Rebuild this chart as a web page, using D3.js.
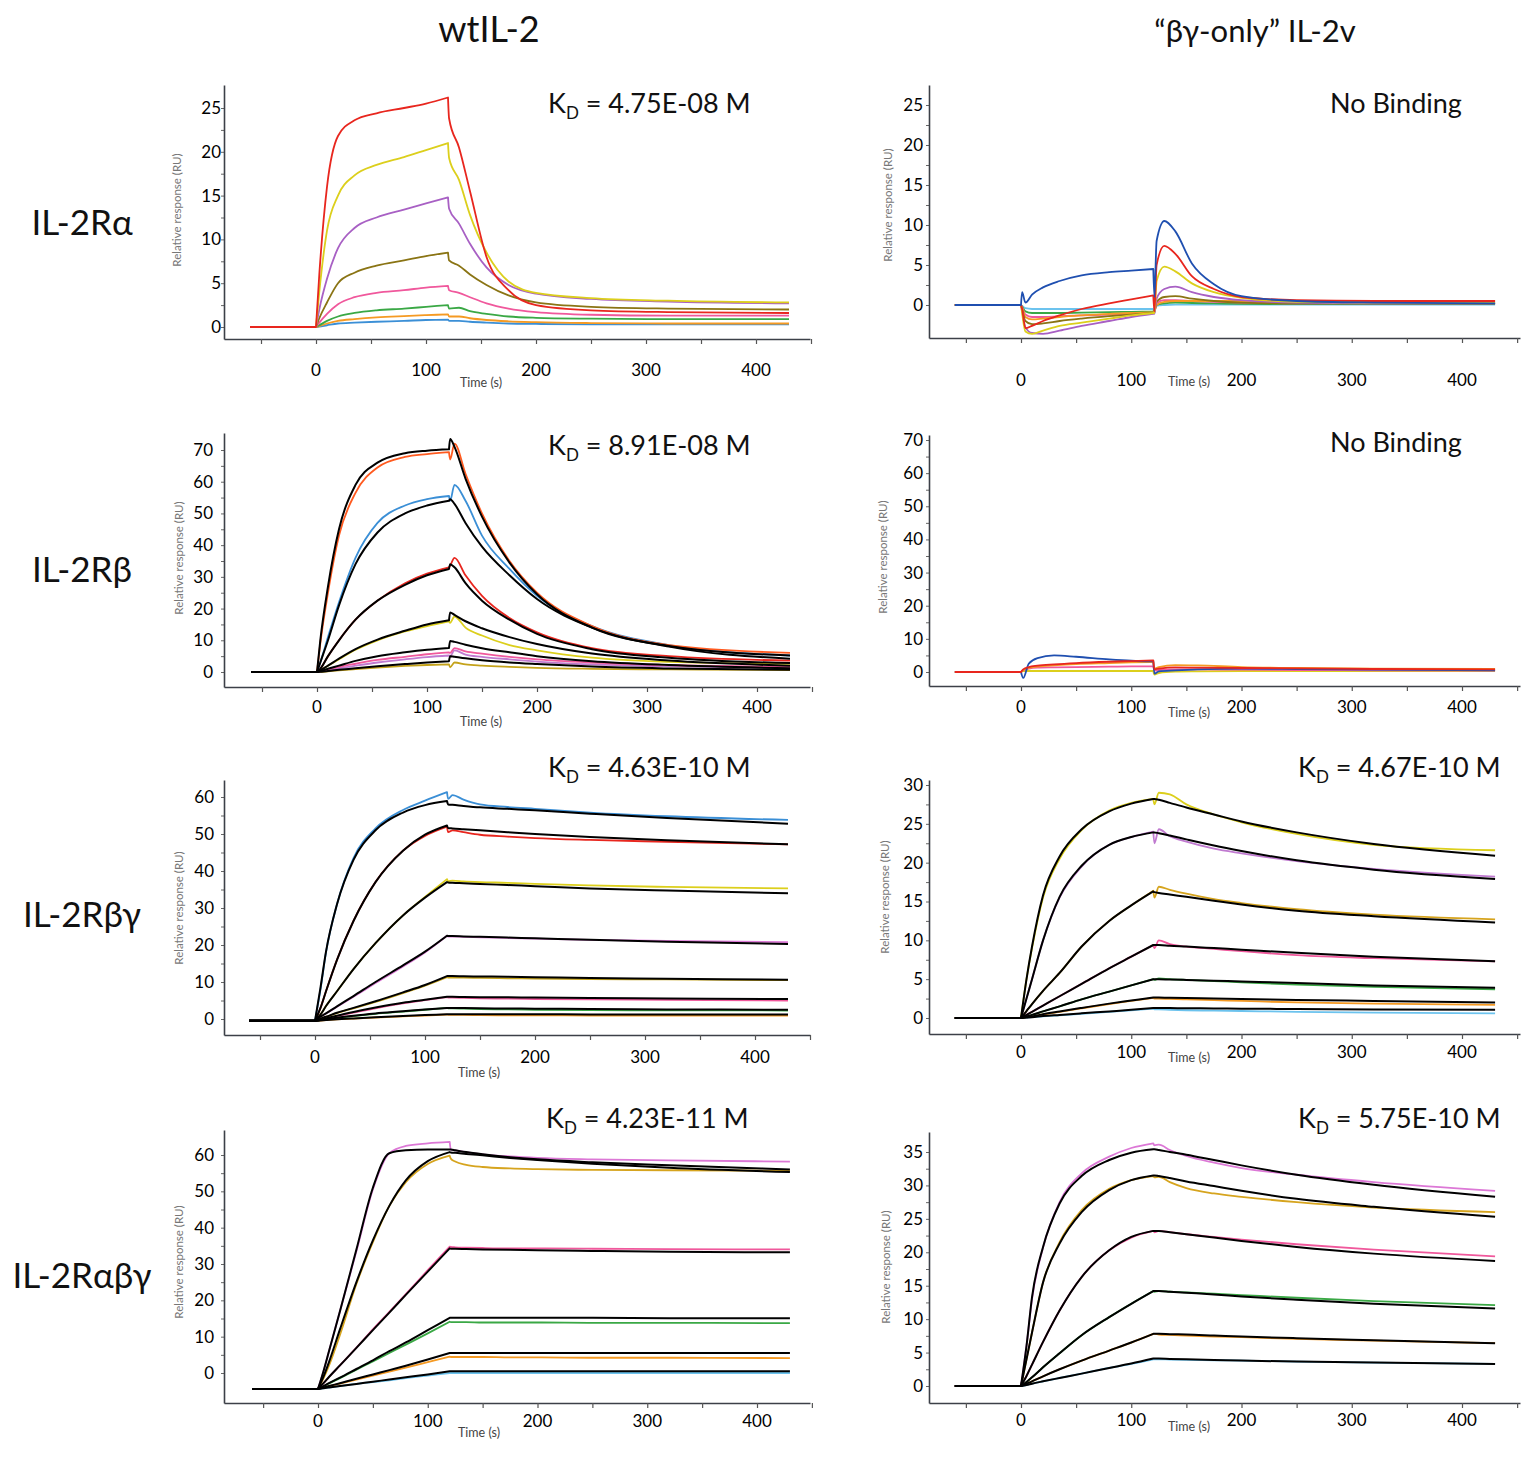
<!DOCTYPE html>
<html>
<head>
<meta charset="utf-8">
<script src="https://cdn.jsdelivr.net/npm/d3@7/dist/d3.min.js"></script>
<style>
  body { margin: 0; background: #fff; }
</style>
</head>
<body>
<div id="chart"></div>
<script>
// ---------- labels ----------
const colTitles = ["wtIL-2", "\u201Cβγ-only\u201D IL-2v"];
const rowTitles = ["IL-2Rα", "IL-2Rβ", "IL-2Rβγ", "IL-2Rαβγ"];
const kdValues = ["4.75E-08 M", null, "8.91E-08 M", null, "4.63E-10 M", "4.67E-10 M", "4.23E-11 M", "5.75E-10 M"];
const xTickLabels = [0, 100, 200, 300, 400];
const xTickMarks = [-50, 0, 50, 100, 150, 200, 250, 300, 350, 400, 450];
const yTicks25 = [0, 5, 10, 15, 20, 25];
const yTicks70 = [0, 10, 20, 30, 40, 50, 60, 70];
const yTicks60 = [0, 10, 20, 30, 40, 50, 60];
const yTicks30 = [0, 5, 10, 15, 20, 25, 30];
const yTicks35 = [0, 5, 10, 15, 20, 25, 30, 35];
const injectEnd = 120; // end of association phase (s)

// ---------- colours ----------
const cRed = "#e8261e", cYellow = "#dccf1c", cPurple = "#a860c4", cBrown = "#8a7414",
      cPink = "#f0589c", cGreen = "#3aa845", cOrange = "#f59a23", cBlue = "#3b8fd6",
      cNavy = "#1f4fb0", cCyan = "#6cc3ee", cOrangeRed = "#ff5a1f", cGold = "#d6a41e",
      cMagenta = "#dc78d6", cOlive = "#c4a21a", cLilac = "#c07ad0";

// ---------- wtIL-2 / IL-2Rα ----------
const timesA = [-60, 0, 3, 10, 20, 35, 55, 80, 100, 120, 121, 130, 140, 155, 175, 200, 250, 320, 430];
const dataA = [
  [0, 0, 0.05, 0.2, 0.4, 0.5, 0.6, 0.7, 0.8, 0.85, 0.7, 0.7, 0.6, 0.5, 0.4, 0.35, 0.3, 0.3, 0.3],
  [0, 0, 0.1, 0.4, 0.7, 0.9, 1.1, 1.25, 1.35, 1.45, 1.2, 1.2, 1.0, 0.8, 0.65, 0.55, 0.45, 0.4, 0.4],
  [0, 0, 0.2, 0.7, 1.2, 1.6, 1.9, 2.1, 2.3, 2.5, 2.1, 2.2, 1.8, 1.5, 1.2, 1.05, 0.95, 0.9, 0.9],
  [0, 0, 0.5, 1.5, 2.6, 3.4, 3.9, 4.2, 4.5, 4.7, 4.2, 3.9, 3.4, 2.7, 2.1, 1.7, 1.4, 1.3, 1.3],
  [0, 0, 1.0, 2.8, 5.0, 6.2, 7.0, 7.6, 8.1, 8.5, 7.6, 7.0, 6.0, 4.8, 3.6, 2.8, 2.3, 2.1, 2.0],
  [0, 0, 2, 5.5, 9, 11.3, 12.5, 13.4, 14.1, 14.8, 13.5, 11.8, 9.5, 6.8, 4.8, 3.8, 3.2, 2.9, 2.7],
  [0, 0, 4, 11, 15, 17.3, 18.5, 19.4, 20.2, 21.0, 19.3, 16.8, 12.8, 8.5, 5.2, 3.9, 3.3, 3.0, 2.8],
  [0, 0, 6, 16, 21.8, 23.6, 24.4, 25.0, 25.5, 26.2, 23.8, 20.5, 15.5, 8.0, 4.2, 2.5, 1.9, 1.7, 1.6]
];
const colorsA = [cBlue, cOrange, cGreen, cPink, cBrown, cPurple, cYellow, cRed];

// ---------- βγ-only / IL-2Rα ----------
const timesB = [-60, 0, 1, 4, 10, 20, 35, 55, 80, 100, 120, 121, 123, 130, 140, 155, 175, 200, 250, 320, 430];
const dataB = [
  [0, 0, -0.1, -0.4, -0.5, -0.5, -0.5, -0.5, -0.5, -0.5, -0.5, -0.3, -0.1, 0, 0.05, 0.05, 0.05, 0.05, 0.05, 0.05, 0.05],
  [0, 0, -0.2, -0.8, -1.0, -1.0, -1.0, -0.95, -0.9, -0.85, -0.8, -0.6, 0, 0.2, 0.3, 0.25, 0.2, 0.15, 0.1, 0.1, 0.1],
  [0, 0, -0.3, -1.2, -1.5, -1.5, -1.4, -1.3, -1.2, -1.1, -1.0, -0.8, 0.2, 0.6, 0.6, 0.5, 0.4, 0.3, 0.2, 0.2, 0.2],
  [0, 0, -0.3, -1.5, -1.8, -1.7, -1.5, -1.3, -1.1, -1.0, -0.9, -0.8, 0.0, 0.4, 0.5, 0.5, 0.5, 0.5, 0.5, 0.5, 0.5],
  [0, 0, -0.5, -2.0, -2.4, -2.3, -2.0, -1.7, -1.4, -1.2, -1.0, -0.9, 0.4, 1.0, 1.1, 0.8, 0.5, 0.3, 0.2, 0.2, 0.2],
  [0, 0, -0.8, -2.8, -3.5, -3.6, -3.2, -2.6, -2.0, -1.5, -1.1, -1.1, 0.8, 2.0, 2.3, 1.6, 1.0, 0.6, 0.3, 0.2, 0.2],
  [0, 0, -1.0, -3.3, -3.6, -3.2, -2.6, -2.2, -1.7, -1.3, -1.0, -1.0, 3.0, 4.8, 4.2, 2.7, 1.6, 0.9, 0.4, 0.3, 0.3],
  [0, 0, -0.5, -2.9, -2.6, -2.0, -1.3, -0.5, 0.2, 0.7, 1.2, -0.8, 5.0, 7.4, 6.4, 3.6, 2.0, 1.0, 0.6, 0.5, 0.5],
  [0, 0, 1.6, 0.3, 1.3, 2.2, 3.0, 3.7, 4.1, 4.3, 4.5, 1.0, 8.0, 10.5, 9.2, 5.2, 2.6, 1.1, 0.5, 0.3, 0.2]
];
const colorsB = [cCyan, cGreen, cPink, cOrange, cBrown, cPurple, cYellow, cRed, cNavy];

// ---------- wtIL-2 / IL-2Rβ ----------
const timesC = [-60, 0, 3, 10, 20, 35, 55, 80, 100, 120, 121, 125, 135, 150, 175, 200, 250, 320, 430];
const dataC = [
  [0, 0, 0, 0.2, 0.5, 0.9, 1.4, 1.9, 2.2, 2.4, 1.5, 3.0, 2.4, 2.0, 1.6, 1.3, 1.0, 0.8, 0.6],
  [0, 0, 0.2, 0.6, 1.2, 2.0, 3.0, 4.0, 4.7, 5.2, 5.0, 6.8, 5.5, 4.8, 4.0, 3.3, 2.4, 1.8, 1.3],
  [0, 0, 0.2, 0.8, 1.6, 2.6, 3.8, 4.8, 5.6, 6.2, 6.0, 7.5, 6.5, 5.8, 4.8, 4.0, 3.0, 2.2, 1.6],
  [0, 0, 0.5, 2, 4, 7, 10, 12.8, 14.5, 16, 15.5, 17.5, 14, 11.5, 8.5, 6.8, 4.5, 3.2, 2.6],
  [0, 0, 1, 5, 10, 16.5, 22.5, 28, 31, 33, 33.5, 36, 30.5, 24, 17, 12.5, 7.5, 5.0, 3.6],
  [0, 0, 3, 11, 22, 36, 47, 52.5, 54.5, 55.5, 54, 59, 54, 43, 32.5, 24, 14.5, 8.5, 5.2],
  [0, 0, 9, 25, 43, 56.5, 64.5, 67.8, 68.7, 69.3, 67, 72, 62.5, 50, 35, 25, 14.5, 8.5, 6.0]
];
const fitsC = [
  [0, 0, 0.1, 0.3, 0.7, 1.2, 1.8, 2.5, 3.0, 3.4, 5.0, 4.8, 4.3, 3.7, 3.0, 2.5, 1.7, 1.1, 0.7],
  [0, 0, 0.3, 1, 2, 3.5, 5, 6.2, 7, 7.6, 9.8, 9.5, 8.6, 7.5, 6.2, 5.0, 3.4, 2.2, 1.2],
  [0, 0, 0.5, 2, 4.2, 7.2, 10.2, 13, 15, 16.3, 18.8, 18, 16, 13.8, 11, 8.8, 5.8, 3.6, 2.0],
  [0, 0, 1, 5, 10, 16.5, 22.5, 27.5, 30.5, 32.5, 34, 33, 28, 22.5, 16.5, 12, 7.2, 4.5, 2.8],
  [0, 0, 3, 10, 21, 34, 44, 50, 52.5, 54, 54.5, 53, 47, 39.5, 30.5, 23, 14, 8, 4.2],
  [0, 0, 10, 27, 45, 59, 66, 69, 69.8, 70.2, 73.5, 71, 61, 49, 34.5, 24.5, 14, 8.2, 5.2]
];
const colorsC = [cOlive, cLilac, cPink, cYellow, cRed, cBlue, cOrangeRed];

// ---------- βγ-only / IL-2Rβ ----------
const timesD = [-60, 0, 2, 7, 15, 30, 50, 80, 100, 120, 121, 125, 140, 160, 200, 250, 320, 430];
const dataD = [
  [0, 0, 0.3, 0.3, 0.3, 0.3, 0.3, 0.3, 0.3, 0.3, -0.8, -0.3, 0.1, 0.2, 0.3, 0.3, 0.3, 0.3],
  [0, 0, 0.5, 1.0, 1.3, 1.4, 1.5, 1.6, 1.7, 1.7, 0.4, 0.6, 0.8, 0.8, 0.7, 0.6, 0.5, 0.4],
  [0, 0, 0.6, 1.2, 1.6, 2.0, 2.4, 2.7, 2.9, 3.0, 1.0, 1.5, 2.1, 2.0, 1.5, 1.2, 1.0, 0.9],
  [0, 0, -1.8, 2.5, 4.2, 5.0, 4.6, 3.8, 3.4, 3.2, -0.5, 0.2, 0.5, 0.8, 1.0, 0.9, 0.7, 0.5],
  [0, 0, 0.8, 1.5, 1.9, 2.3, 2.7, 3.1, 3.3, 3.5, 0.8, 1.0, 1.4, 1.3, 1.2, 1.1, 0.9, 0.8]
];
const colorsD = [cYellow, cPink, cOrange, cNavy, cRed];

// ---------- wtIL-2 / IL-2Rβγ ----------
const timesE = [-60, 0, 5, 10, 20, 35, 55, 80, 100, 120, 121, 125, 135, 150, 175, 200, 250, 320, 430];
const dataE = [
  [-0.5, -0.5, -0.4, -0.3, -0.1, 0.1, 0.4, 0.7, 0.95, 1.2, 1.1, 1.1, 1.1, 1.05, 1.0, 1.0, 0.95, 0.9, 0.9],
  [-0.5, -0.5, -0.3, -0.1, 0.3, 0.8, 1.4, 2.0, 2.5, 3.0, 2.9, 2.9, 2.8, 2.7, 2.6, 2.5, 2.4, 2.35, 2.3],
  [-0.5, -0.5, -0.2, 0.1, 0.8, 1.7, 2.9, 4.2, 5.1, 5.9, 5.8, 5.8, 5.7, 5.6, 5.5, 5.4, 5.3, 5.15, 5.0],
  [-0.5, -0.5, 0.1, 0.6, 1.6, 2.9, 4.6, 7.0, 9.0, 11.3, 11.2, 11.2, 11.2, 11.1, 11.0, 10.95, 10.8, 10.7, 10.5],
  [-0.5, -0.5, 0.6, 1.5, 3.3, 6.0, 9.7, 14.2, 18.0, 22.5, 22.3, 22.3, 22.2, 22.1, 21.9, 21.7, 21.4, 21.1, 20.8],
  [-0.5, -0.5, 1.2, 3.5, 7.5, 13.5, 20.5, 28, 33, 37.8, 37.2, 37.4, 37.2, 37.0, 36.8, 36.5, 36.1, 35.7, 35.3],
  [-0.5, -0.5, 3, 7.5, 16, 26.5, 37, 45.5, 49.5, 52, 50.5, 51, 50.5, 49.8, 49.3, 48.9, 48.4, 47.9, 47.2],
  [-0.5, -0.5, 8, 18, 31, 43.5, 51.5, 56.5, 59, 61.3, 59.5, 60.5, 59.3, 58, 57.3, 56.8, 55.8, 54.8, 53.8]
];
const fitsE = [
  [-0.5, -0.5, -0.4, -0.3, -0.1, 0.15, 0.45, 0.8, 1.05, 1.3, 1.3, 1.3, 1.3, 1.3, 1.28, 1.27, 1.25, 1.22, 1.2],
  [-0.5, -0.5, -0.3, -0.1, 0.35, 0.9, 1.5, 2.1, 2.6, 3.0, 3.0, 3.0, 2.95, 2.9, 2.85, 2.8, 2.7, 2.6, 2.5],
  [-0.5, -0.5, -0.2, 0.15, 0.9, 1.9, 3.1, 4.4, 5.2, 6.0, 6.0, 6.0, 5.95, 5.9, 5.85, 5.8, 5.7, 5.55, 5.4],
  [-0.5, -0.5, 0.1, 0.6, 1.7, 3.0, 4.8, 7.2, 9.2, 11.6, 11.6, 11.6, 11.55, 11.5, 11.4, 11.3, 11.1, 10.9, 10.6],
  [-0.5, -0.5, 0.6, 1.5, 3.4, 6.2, 10.0, 14.5, 18.2, 22.5, 22.4, 22.4, 22.3, 22.2, 22.0, 21.8, 21.4, 20.9, 20.3],
  [-0.5, -0.5, 1.2, 3.5, 7.5, 13.5, 20.5, 28, 32.8, 37.0, 36.9, 36.8, 36.7, 36.5, 36.2, 35.9, 35.3, 34.7, 34.0],
  [-0.5, -0.5, 3, 7.5, 16, 26.5, 37, 45.5, 49.8, 52.3, 51.6, 51.5, 51.3, 51.0, 50.5, 50.0, 49.2, 48.3, 47.2],
  [-0.5, -0.5, 8.5, 18.2, 31, 43, 51, 55.8, 57.8, 58.9, 58.0, 57.9, 57.6, 57.2, 56.8, 56.4, 55.5, 54.3, 52.8]
];
const colorsE = [cOrange, cGreen, cPink, cOlive, cMagenta, cYellow, cRed, cBlue];

// ---------- βγ-only / IL-2Rβγ ----------
const timesF = [-60, 0, 5, 10, 20, 35, 55, 80, 100, 120, 121, 125, 135, 150, 175, 200, 250, 320, 430];
const dataF = [
  [0, 0, 0.05, 0.1, 0.2, 0.35, 0.55, 0.8, 1.0, 1.2, 1.1, 1.1, 1.05, 1.0, 0.95, 0.9, 0.8, 0.7, 0.6],
  [0, 0, 0.1, 0.2, 0.45, 0.8, 1.25, 1.8, 2.2, 2.6, 2.5, 2.5, 2.45, 2.4, 2.3, 2.2, 2.0, 1.85, 1.7],
  [0, 0, 0.2, 0.4, 0.85, 1.5, 2.4, 3.4, 4.2, 5.0, 4.9, 5.1, 5.0, 4.9, 4.75, 4.6, 4.3, 4.0, 3.7],
  [0, 0, 0.4, 0.8, 1.6, 2.8, 4.4, 6.4, 7.9, 9.4, 9.0, 10.0, 9.5, 9.2, 8.9, 8.6, 8.1, 7.7, 7.3],
  [0, 0, 0.9, 1.8, 3.5, 5.8, 9.2, 12.5, 14.5, 16.4, 15.5, 16.9, 16.5, 16.0, 15.3, 14.8, 14.0, 13.3, 12.7],
  [0, 0, 2.5, 5, 10, 15.5, 19.5, 22.3, 23.3, 24.0, 22.5, 24.3, 23.4, 22.7, 21.8, 21.2, 20.2, 19.2, 18.2],
  [0, 0, 5, 9, 15.5, 20.5, 24.2, 26.7, 27.7, 28.2, 27.5, 29.0, 28.8, 27.5, 26.2, 25.2, 23.7, 22.3, 21.6]
];
const fitsF = [
  [0, 0, 0.05, 0.1, 0.25, 0.4, 0.6, 0.85, 1.05, 1.3, 1.3, 1.3, 1.28, 1.26, 1.23, 1.2, 1.16, 1.1, 1.05],
  [0, 0, 0.1, 0.2, 0.5, 0.85, 1.3, 1.85, 2.25, 2.65, 2.65, 2.64, 2.6, 2.57, 2.5, 2.45, 2.33, 2.2, 2.0],
  [0, 0, 0.2, 0.4, 0.85, 1.5, 2.4, 3.4, 4.2, 5.0, 5.0, 5.0, 4.95, 4.9, 4.8, 4.7, 4.5, 4.2, 3.9],
  [0, 0, 0.4, 0.8, 1.6, 2.8, 4.4, 6.4, 7.9, 9.4, 9.4, 9.4, 9.3, 9.2, 9.0, 8.8, 8.4, 7.9, 7.3],
  [0, 0, 0.9, 1.8, 3.5, 5.8, 9.2, 12.5, 14.5, 16.3, 16.2, 16.1, 15.9, 15.6, 15.1, 14.6, 13.8, 13.1, 12.3],
  [0, 0, 2.5, 5, 10, 15.6, 19.6, 22.3, 23.3, 23.9, 23.9, 23.8, 23.5, 23.0, 22.2, 21.5, 20.3, 19.1, 17.9],
  [0, 0, 5, 9.2, 15.8, 20.8, 24.3, 26.6, 27.6, 28.2, 28.2, 28.1, 27.7, 27.1, 26.2, 25.3, 23.9, 22.4, 20.9]
];
const colorsF = [cCyan, cOrange, cGreen, cPink, cGold, cLilac, cYellow];

// ---------- wtIL-2 / IL-2Rαβγ ----------
const timesG = [-60, 0, 5, 10, 20, 35, 50, 65, 80, 100, 120, 121, 125, 135, 150, 175, 200, 250, 320, 430];
const dataG = [
  [-4.4, -4.4, -4.2, -4.0, -3.6, -3.0, -2.5, -2.0, -1.4, -0.7, 0.0, 0.0, 0.0, 0.0, 0.0, 0.0, 0.0, 0.0, 0.0, 0.0],
  [-4.4, -4.4, -4.0, -3.6, -2.9, -1.8, -0.7, 0.4, 1.5, 3.0, 4.5, 4.4, 4.4, 4.4, 4.4, 4.3, 4.3, 4.2, 4.2, 4.1],
  [-4.4, -4.4, -3.7, -2.9, -1.4, 0.9, 3.2, 5.5, 7.8, 10.9, 14.1, 14.0, 14.0, 14.0, 13.9, 13.9, 13.9, 13.8, 13.8, 13.7],
  [-4.4, -4.4, -2.8, -1.1, 2.1, 7.0, 12.0, 16.8, 21.7, 28.3, 34.8, 34.7, 34.6, 34.5, 34.4, 34.3, 34.3, 34.2, 34.1, 34.0],
  [-4.4, -4.4, -1.5, 2, 10.5, 24.5, 36, 46, 52.5, 57.5, 59.8, 59, 58.2, 57.3, 56.7, 56.3, 56.1, 55.9, 55.8, 55.7],
  [-4.4, -4.4, 0.5, 6, 17, 33.5, 50.5, 60.5, 62.5, 63.2, 63.6, 61.5, 61.3, 60.8, 60.2, 59.6, 59.2, 58.8, 58.5, 58.2]
];
const fitsG = [
  [-4.4, -4.4, -4.2, -4.0, -3.6, -3.0, -2.4, -1.8, -1.2, -0.4, 0.5, 0.5, 0.5, 0.5, 0.5, 0.5, 0.5, 0.5, 0.5, 0.5],
  [-4.4, -4.4, -4.0, -3.6, -2.8, -1.6, -0.4, 0.8, 2.0, 3.7, 5.5, 5.5, 5.5, 5.5, 5.5, 5.5, 5.5, 5.5, 5.5, 5.5],
  [-4.4, -4.4, -3.6, -2.8, -1.3, 1.1, 3.5, 6.0, 8.4, 11.8, 15.2, 15.2, 15.2, 15.2, 15.2, 15.2, 15.2, 15.2, 15.1, 15.1],
  [-4.4, -4.4, -2.8, -1.1, 2.1, 6.9, 11.8, 16.6, 21.5, 27.9, 34.3, 34.2, 34.2, 34.1, 34.0, 33.9, 33.8, 33.6, 33.4, 33.2],
  [-4.4, -4.4, -1, 3, 12, 25, 36.5, 46, 53, 58.3, 60.8, 60.7, 60.6, 60.3, 59.9, 59.2, 58.6, 57.6, 56.5, 55.3],
  [-4.4, -4.4, 0.5, 6, 17, 34, 51, 60.5, 61.3, 61.5, 61.5, 61.5, 61.3, 60.8, 60.2, 59.4, 58.8, 58.0, 57.2, 56.0]
];
const colorsG = [cCyan, cOrange, cGreen, cPink, cGold, cMagenta];

// ---------- βγ-only / IL-2Rαβγ ----------
const timesH = [-60, 0, 5, 10, 20, 35, 55, 80, 100, 120, 121, 125, 135, 150, 175, 200, 250, 320, 430];
const dataH = [
  [0, 0, 0.15, 0.35, 0.7, 1.2, 1.85, 2.7, 3.3, 4.0, 4.0, 4.0, 3.95, 3.9, 3.85, 3.8, 3.65, 3.5, 3.3],
  [0, 0, 0.35, 0.7, 1.45, 2.5, 3.8, 5.3, 6.5, 7.8, 7.8, 7.7, 7.65, 7.55, 7.4, 7.3, 7.05, 6.8, 6.4],
  [0, 0, 0.6, 1.3, 2.8, 4.9, 7.6, 10.3, 12.3, 14.2, 14.1, 14.2, 14.1, 14.0, 13.8, 13.6, 13.2, 12.7, 12.1],
  [0, 0, 1.5, 3.2, 6.6, 11.3, 16.3, 20.3, 22.2, 23.2, 23.0, 23.2, 23.0, 22.7, 22.3, 21.9, 21.2, 20.4, 19.4],
  [0, 0, 4, 8, 15.5, 21.5, 26.3, 29.5, 30.8, 31.4, 31.2, 31.3, 30.5, 29.6, 28.8, 28.3, 27.5, 26.7, 26.0],
  [0, 0, 6, 13, 20.7, 27.5, 31.8, 34.3, 35.6, 36.3, 36.0, 36.1, 35.3, 34.4, 33.4, 32.6, 31.6, 30.5, 29.2]
];
const fitsH = [
  [0, 0, 0.15, 0.35, 0.7, 1.2, 1.85, 2.7, 3.35, 4.1, 4.1, 4.1, 4.05, 4.0, 3.9, 3.8, 3.65, 3.5, 3.3],
  [0, 0, 0.35, 0.7, 1.45, 2.5, 3.8, 5.3, 6.5, 7.8, 7.8, 7.8, 7.75, 7.7, 7.55, 7.4, 7.15, 6.85, 6.4],
  [0, 0, 0.6, 1.3, 2.8, 4.9, 7.6, 10.3, 12.3, 14.2, 14.2, 14.2, 14.1, 13.95, 13.7, 13.4, 12.9, 12.3, 11.6],
  [0, 0, 1.5, 3.2, 6.6, 11.3, 16.3, 20.3, 22.3, 23.2, 23.2, 23.2, 23.0, 22.7, 22.2, 21.7, 20.8, 19.8, 18.7],
  [0, 0, 4, 8, 15.5, 21.3, 26.0, 29.3, 30.8, 31.5, 31.5, 31.4, 31.1, 30.6, 29.9, 29.2, 28.0, 26.8, 25.3],
  [0, 0, 6, 13.3, 20.8, 27.3, 31.4, 33.8, 34.9, 35.4, 35.4, 35.3, 35.0, 34.6, 33.8, 33.0, 31.6, 30.1, 28.3]
];
const colorsH = [cCyan, cOrange, cGreen, cPink, cGold, cMagenta];

// ---------- panels (data + pixel frames) ----------
const panels = [
  { times: timesA, data: dataA, fits: null,  colors: colorsA, yTicks: yTicks25, minor: 2.5 },
  { times: timesB, data: dataB, fits: null,  colors: colorsB, yTicks: yTicks25, minor: 2.5 },
  { times: timesC, data: dataC, fits: fitsC, colors: colorsC, yTicks: yTicks70, minor: 5 },
  { times: timesD, data: dataD, fits: null,  colors: colorsD, yTicks: yTicks70, minor: 5 },
  { times: timesE, data: dataE, fits: fitsE, colors: colorsE, yTicks: yTicks60, minor: 5 },
  { times: timesF, data: dataF, fits: fitsF, colors: colorsF, yTicks: yTicks30, minor: 2.5 },
  { times: timesG, data: dataG, fits: fitsG, colors: colorsG, yTicks: yTicks60, minor: 5 },
  { times: timesH, data: dataH, fits: fitsH, colors: colorsH, yTicks: yTicks35, minor: 2.5 }
];

// pixel frames: axis box, where t=0 / t=400 fall, where y=0 / y=yRef fall
const frames = [
  { left: 224, right: 810,  top: 85,   bottom: 339,  x0: 316,  x400: 756,  y0: 327,  yRef: [25, 108],  tickY: 370,  timeX: 481,  timeY: 383,  ruX: 177, ruY: 210,  kdX: 548,  kdY: 113,  pad: 3 },
  { left: 929, right: 1520, top: 85,   bottom: 338,  x0: 1021, x400: 1462, y0: 305,  yRef: [25, 105],  tickY: 380,  timeX: 1189, timeY: 382,  ruX: 888, ruY: 205,  kdX: 1330, kdY: 113,  pad: 6 },
  { left: 224, right: 810,  top: 433,  bottom: 687,  x0: 317,  x400: 757,  y0: 672,  yRef: [70, 450],  tickY: 707,  timeX: 481,  timeY: 722,  ruX: 179, ruY: 558,  kdX: 548,  kdY: 455,  pad: 11 },
  { left: 929, right: 1520, top: 435,  bottom: 686,  x0: 1021, x400: 1462, y0: 672,  yRef: [70, 440],  tickY: 707,  timeX: 1189, timeY: 713,  ruX: 883, ruY: 557,  kdX: 1330, kdY: 452,  pad: 6 },
  { left: 224, right: 810,  top: 780,  bottom: 1035, x0: 315,  x400: 755,  y0: 1019, yRef: [60, 797],  tickY: 1057, timeX: 479,  timeY: 1073, ruX: 179, ruY: 908,  kdX: 548,  kdY: 777,  pad: 10 },
  { left: 929, right: 1520, top: 780,  bottom: 1034, x0: 1021, x400: 1462, y0: 1018, yRef: [30, 785],  tickY: 1052, timeX: 1189, timeY: 1058, ruX: 885, ruY: 897,  kdX: 1298, kdY: 777,  pad: 6 },
  { left: 224, right: 810,  top: 1130, bottom: 1403, x0: 318,  x400: 757,  y0: 1373, yRef: [60, 1155], tickY: 1421, timeX: 479,  timeY: 1433, ruX: 179, ruY: 1262, kdX: 546,  kdY: 1128, pad: 10 },
  { left: 929, right: 1520, top: 1132, bottom: 1403, x0: 1021, x400: 1462, y0: 1386, yRef: [35, 1152], tickY: 1420, timeX: 1189, timeY: 1427, ruX: 886, ruY: 1267, kdX: 1298, kdY: 1128, pad: 6 }
];

const FONT = "Lato, 'Open Sans', 'DejaVu Sans', sans-serif";
const W = 1535, H = 1457;

const svg = d3.select("#chart").append("svg")
  .attr("xmlns", "http://www.w3.org/2000/svg")
  .attr("width", W)
  .attr("height", H)
  .style("background", "#fff")
  .style("font-family", FONT);

// column titles
const colX = [489, 1255];
const colSize = [36, 31];
colTitles.forEach((t, i) => {
  svg.append("text")
    .attr("x", colX[i]).attr("y", 42)
    .attr("text-anchor", "middle")
    .attr("font-size", colSize[i])
    .attr("fill", "#111")
    .text(t);
});

// row titles
const rowY = [235, 582, 927, 1288];
rowTitles.forEach((t, i) => {
  svg.append("text")
    .attr("x", 82).attr("y", rowY[i])
    .attr("text-anchor", "middle")
    .attr("font-size", 35)
    .attr("fill", "#111")
    .text(t);
});

panels.forEach((p, i) => {
  const f = frames[i];
  const g = svg.append("g");

  // scales from the pixel calibration
  const xCal = d3.scaleLinear().domain([0, 400]).range([f.x0, f.x400]);
  const x = d3.scaleLinear().domain([xCal.invert(f.left), xCal.invert(f.right)]).range([f.left, f.right]);
  const yCal = d3.scaleLinear().domain([0, f.yRef[0]]).range([f.y0, f.yRef[1]]);
  const y = d3.scaleLinear().domain([yCal.invert(f.bottom), yCal.invert(f.top)]).range([f.bottom, f.top]);

  // x axis: line + small ticks every 50 s
  const xAxis = g.append("g")
    .attr("transform", `translate(0,${f.bottom})`)
    .call(d3.axisBottom(x).tickValues(xTickMarks).tickSize(5).tickSizeOuter(0).tickFormat(""));
  xAxis.select(".domain").attr("stroke", "#3c4048").attr("stroke-width", 1.6);
  xAxis.selectAll(".tick line").attr("stroke", "#555").attr("stroke-width", 1.2);

  g.selectAll(".xlab").data(xTickLabels).join("text")
    .attr("x", d => x(d)).attr("y", f.tickY)
    .attr("dy", "0.35em")
    .attr("text-anchor", "middle")
    .attr("font-size", 17)
    .attr("fill", "#000")
    .text(d => d);

  // y axis: labelled ticks + minor ticks
  const minorTicks = d3.range(p.yTicks[0], p.yTicks[p.yTicks.length - 1] + 0.01, p.minor)
    .filter(v => y(v) >= f.top && y(v) <= f.bottom);
  const yMinor = g.append("g")
    .attr("transform", `translate(${f.left},0)`)
    .call(d3.axisLeft(y).tickValues(minorTicks).tickSize(3).tickFormat(""));
  yMinor.select(".domain").remove();
  yMinor.selectAll(".tick line").attr("stroke", "#666");

  const yAxis = g.append("g")
    .attr("transform", `translate(${f.left},0)`)
    .call(d3.axisLeft(y).tickValues(p.yTicks).tickSize(0).tickSizeOuter(0).tickPadding(f.pad));
  yAxis.select(".domain").attr("stroke", "#3c4048").attr("stroke-width", 1.6);
  yAxis.selectAll(".tick text")
    .attr("font-family", FONT)
    .attr("font-size", 17)
    .attr("fill", "#000");

  // axis titles
  g.append("text")
    .attr("x", f.timeX).attr("y", f.timeY)
    .attr("dy", "0.35em")
    .attr("text-anchor", "middle")
    .attr("font-size", 12.5)
    .attr("fill", "#444")
    .text("Time (s)");
  g.append("text")
    .attr("transform", `translate(${f.ruX},${f.ruY}) rotate(-90)`)
    .attr("dy", "0.35em")
    .attr("text-anchor", "middle")
    .attr("font-size", 11.5)
    .attr("fill", "#777")
    .text("Relative response (RU)");

  // curves: baseline, association and dissociation are smoothed separately
  // so the injection start/stop keep their sharp corners
  const line = d3.line()
    .x(d => x(d[0]))
    .y(d => y(d[1]))
    .curve(d3.curveMonotoneX);
  const sensorgram = vals => {
    const pts = d3.zip(p.times, vals);
    const base = pts.filter(d => d[0] <= 0);
    const assoc = pts.filter(d => d[0] >= 0 && d[0] <= injectEnd);
    const diss = [assoc[assoc.length - 1]].concat(pts.filter(d => d[0] > injectEnd));
    return [base, assoc, diss].map((s, k) => k ? line(s).replace(/^M/, "L") : line(s)).join("");
  };

  g.append("g").selectAll("path").data(p.data).join("path")
    .attr("d", sensorgram)
    .attr("fill", "none")
    .attr("stroke", (d, k) => p.colors[k])
    .attr("stroke-width", 1.8)
    .attr("stroke-linejoin", "round");

  if (p.fits) {
    g.append("g").selectAll("path").data(p.fits).join("path")
      .attr("d", sensorgram)
      .attr("fill", "none")
      .attr("stroke", "#000")
      .attr("stroke-width", 2)
      .attr("stroke-linejoin", "round");
  }

  // KD / no-binding annotation
  const kd = g.append("text")
    .attr("x", f.kdX).attr("y", f.kdY)
    .attr("font-size", 27)
    .attr("fill", "#111");
  if (kdValues[i]) {
    kd.append("tspan").text("K");
    kd.append("tspan").attr("font-size", 17).attr("dy", 6).text("D");
    kd.append("tspan").attr("dy", -6).text(" = " + kdValues[i]);
  } else {
    kd.text("No Binding");
  }
});
</script>
</body>
</html>
